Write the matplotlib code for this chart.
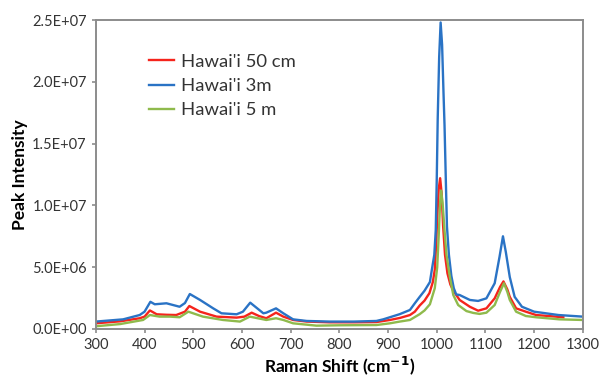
import matplotlib
matplotlib.use("Agg")
import matplotlib.pyplot as plt

plt.rcParams["font.family"] = ["Lato", "DejaVu Sans"]

# Raman shift (cm-1) and peak intensity
shift_red = [300, 350, 390, 400, 411, 425, 445, 465, 483, 492, 514, 548, 589, 605, 620,
             635, 650, 670, 685, 705, 733, 780, 830, 876, 904, 925, 945, 955, 965, 975,
             985, 992, 996, 999, 1001, 1004, 1007, 1010, 1013, 1017, 1022, 1028, 1034,
             1047, 1068, 1085, 1102, 1119, 1130, 1137, 1145, 1150, 1163, 1183, 1204,
             1230, 1260]
int_red = [0.46e6, 0.62e6, 0.87e6, 1.0e6, 1.5e6, 1.19e6, 1.15e6, 1.13e6, 1.4e6, 1.86e6,
           1.4e6, 1.0e6, 0.92e6, 1.0e6, 1.32e6, 1.05e6, 0.87e6, 1.32e6, 1.0e6, 0.73e6,
           0.6e6, 0.54e6, 0.54e6, 0.56e6, 0.73e6, 0.9e6, 1.13e6, 1.4e6, 1.9e6, 2.3e6,
           2.9e6, 3.8e6, 4.8e6, 7.0e6, 9.0e6, 11.3e6, 12.2e6, 11.0e6, 8.4e6, 6.0e6,
           4.5e6, 3.6e6, 3.1e6, 2.35e6, 1.8e6, 1.48e6, 1.67e6, 2.48e6, 3.4e6, 3.85e6,
           3.2e6, 2.6e6, 1.67e6, 1.4e6, 1.13e6, 1.05e6, 0.95e6]

shift_blue = [300, 356, 390, 400, 412, 421, 445, 472, 483, 493, 514, 541, 558, 589, 602,
              617, 644, 650, 670, 685, 705, 733, 780, 830, 876, 890, 924, 945, 955, 965,
              975, 986, 990, 995, 998, 1000, 1002, 1005, 1008, 1011, 1014, 1016, 1019,
              1021, 1025, 1030, 1035, 1040, 1047, 1068, 1085, 1102, 1119, 1129, 1136,
              1142, 1150, 1160, 1175, 1200, 1250, 1300]
int_blue = [0.6e6, 0.78e6, 1.13e6, 1.4e6, 2.2e6, 2.0e6, 2.08e6, 1.8e6, 2.1e6, 2.83e6,
            2.35e6, 1.67e6, 1.27e6, 1.19e6, 1.4e6, 2.13e6, 1.27e6, 1.32e6, 1.67e6,
            1.27e6, 0.78e6, 0.65e6, 0.6e6, 0.6e6, 0.65e6, 0.78e6, 1.2e6, 1.54e6,
            2.08e6, 2.6e6, 3.1e6, 3.8e6, 4.8e6, 6.0e6, 8.0e6, 12.0e6, 17.0e6, 22.0e6,
            24.8e6, 23.0e6, 19.0e6, 16.5e6, 11.5e6, 8.3e6, 6.0e6, 4.3e6, 3.3e6, 2.8e6,
            2.75e6, 2.35e6, 2.27e6, 2.48e6, 3.7e6, 5.85e6, 7.5e6, 6.2e6, 4.2e6, 2.6e6,
            1.8e6, 1.4e6, 1.13e6, 1.0e6]

shift_green = [300, 350, 397, 411, 431, 452, 472, 490, 520, 561, 596, 616, 650, 670, 685,
               705, 753, 800, 876, 904, 924, 945, 965, 975, 986, 996, 1001, 1004, 1007,
               1009, 1012, 1016, 1020, 1027, 1034, 1044, 1061, 1075, 1088, 1102, 1119,
               1130, 1138, 1145, 1150, 1163, 1183, 1204, 1252, 1300]
int_green = [0.22e6, 0.4e6, 0.73e6, 1.13e6, 1.0e6, 1.0e6, 0.95e6, 1.4e6, 1.0e6, 0.73e6,
             0.6e6, 1.0e6, 0.73e6, 0.87e6, 0.73e6, 0.46e6, 0.27e6, 0.3e6, 0.32e6,
             0.46e6, 0.6e6, 0.73e6, 1.2e6, 1.5e6, 2.0e6, 3.3e6, 5.0e6, 7.5e6, 10.3e6,
             11.2e6, 10.2e6, 8.0e6, 6.0e6, 4.2e6, 2.75e6, 1.94e6, 1.45e6, 1.3e6, 1.22e6,
             1.32e6, 1.94e6, 3.0e6, 3.7e6, 3.0e6, 2.35e6, 1.4e6, 1.05e6, 0.95e6, 0.78e6,
             0.73e6]

series_labels = ["Hawai'i 50 cm", "Hawai'i 3m", "Hawai'i 5 m"]
y_ticks = [0, 5e6, 10e6, 15e6, 20e6, 25e6]
y_tick_labels = ["0.0E+00", "5.0E+06", "1.0E+07", "1.5E+07", "2.0E+07", "2.5E+07"]
x_ticks = list(range(300, 1301, 100))

fig = plt.figure(figsize=(5.99, 3.81), dpi=100)
ax = fig.add_axes([0.160, 0.1365, 0.813, 0.811])

ax.plot(shift_red, int_red, color="#f5241c", lw=1.7, label=series_labels[0])
ax.plot(shift_blue, int_blue, color="#2a73c5", lw=1.7, label=series_labels[1])
ax.plot(shift_green, int_green, color="#8fba4c", lw=1.7, label=series_labels[2])

ax.set_xlim(300, 1300)
ax.set_ylim(0, 2.5e7)
ax.set_xticks(x_ticks)
ax.set_yticks(y_ticks)
ax.set_yticklabels(y_tick_labels)

for s in ax.spines.values():
    s.set_color("#8c8c8c")
    s.set_linewidth(1.4)
ax.tick_params(colors="#8c8c8c", labelcolor="#333333", labelsize=10.5,
               direction="out", length=3, width=1.2)

ax.set_xlabel("Raman Shift (cm$^{\\mathbf{-1}}$)", fontsize=12.5, fontweight="bold",
              labelpad=2)
ax.set_ylabel("Peak Intensity", fontsize=12.5, fontweight="bold", labelpad=3)

leg = ax.legend(loc="upper left", bbox_to_anchor=(0.095, 0.915), borderaxespad=0,
                frameon=False, fontsize=13.3, handlelength=1.3, handletextpad=0.4,
                labelspacing=0.45)
for t in leg.get_texts():
    t.set_color("#333333")

fig.savefig("out.png", dpi=100)
